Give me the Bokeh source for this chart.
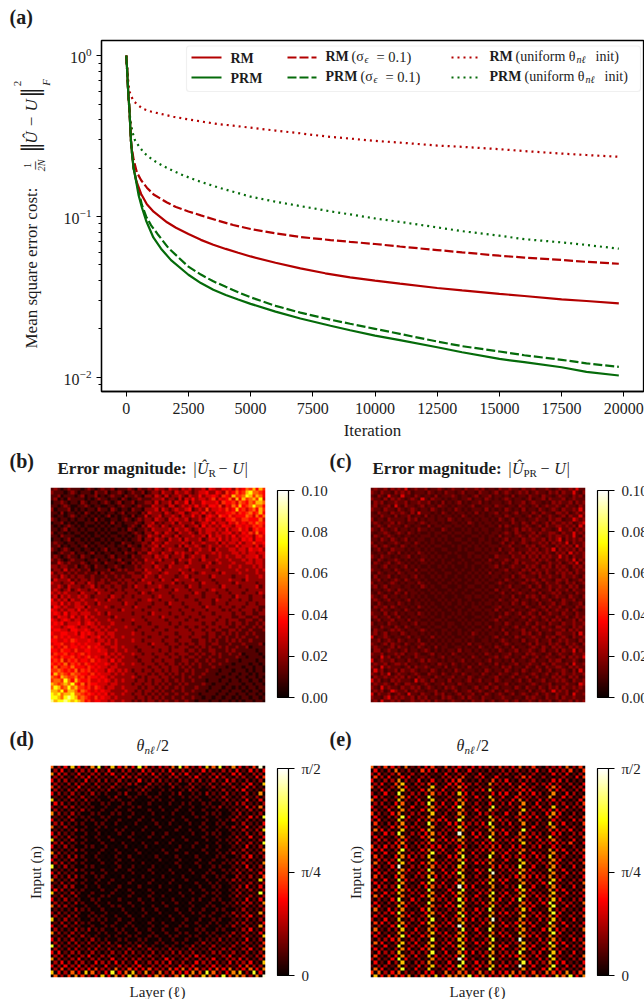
from math import pi
import numpy as np
from bokeh.plotting import figure
from bokeh.layouts import column, row
from bokeh.models import (Label, ColorBar, LinearColorMapper, FixedTicker, Arrow, BoxAnnotation,
                          SingleIntervalTicker, PrintfTickFormatter, LogTicker)
from bokeh.embed import file_html
from bokeh.resources import INLINE

# ---------- curves (a) ----------
rm_x = [0, 30, 60, 90, 130, 190, 240, 295, 400, 600, 830, 1100, 1640, 2000, 2500, 3000, 3500, 4000, 4500, 5000, 6000, 7000, 8000, 9000, 10000, 11000, 12500, 13500, 15000, 16000, 17500, 18500, 19800]
rm_y = [1.0, 0.85, 0.68, 0.56, 0.46, 0.295, 0.24, 0.2, 0.167, 0.138, 0.119, 0.107, 0.092, 0.085, 0.0778, 0.0715, 0.0667, 0.0628, 0.0595, 0.0564, 0.0515, 0.0475, 0.0443, 0.0418, 0.0399, 0.0382, 0.0359, 0.0347, 0.033, 0.032, 0.0305, 0.0298, 0.0288]
prm_x = [0, 30, 60, 90, 130, 190, 240, 295, 400, 500, 630, 800, 1090, 1400, 1800, 2500, 3000, 3500, 4000, 4500, 5000, 6000, 7000, 8210, 9000, 10000, 11000, 12500, 13500, 15000, 16000, 17500, 18500, 19800]
prm_y = [1.0, 0.85, 0.68, 0.56, 0.46, 0.295, 0.24, 0.2, 0.165, 0.135, 0.1137, 0.094, 0.074, 0.063, 0.0535, 0.0434, 0.0385, 0.035, 0.0325, 0.0304, 0.0286, 0.0256, 0.0232, 0.0209, 0.0196, 0.01816, 0.017, 0.01536, 0.0143, 0.013, 0.0124, 0.01153, 0.0108, 0.01025]
rmn_x = [0, 30, 60, 90, 130, 200, 300, 430, 600, 830, 1100, 1640, 2000, 2500, 3000, 3650, 4300, 5000, 6000, 7000, 8210, 9000, 10000, 11000, 12500, 13500, 15000, 16000, 17500, 18500, 19800]
rmn_y = [1.0, 0.85, 0.68, 0.56, 0.46, 0.28, 0.225, 0.1876, 0.168, 0.151, 0.137, 0.122, 0.1145, 0.1074, 0.1015, 0.0945, 0.0885, 0.0835, 0.0785, 0.0745, 0.0713, 0.0695, 0.0674, 0.065, 0.0618, 0.0598, 0.057, 0.0555, 0.0536, 0.0522, 0.0508]
prmn_x = [0, 30, 60, 90, 130, 190, 240, 295, 400, 630, 800, 1000, 1250, 1700, 2500, 3000, 3500, 4000, 4500, 5000, 6000, 7000, 8210, 9000, 10000, 11000, 12500, 13500, 15000, 16000, 17500, 18500, 19800]
prmn_y = [1.0, 0.85, 0.68, 0.56, 0.46, 0.295, 0.24, 0.2, 0.168, 0.118, 0.1, 0.088, 0.0781, 0.0635, 0.0487, 0.0435, 0.0395, 0.0365, 0.0338, 0.0314, 0.0278, 0.0252, 0.0228, 0.0215, 0.02, 0.0186, 0.01667, 0.0156, 0.01445, 0.0137, 0.01283, 0.0122, 0.0116]
rmu_x = [0, 30, 60, 90, 125, 200, 295, 450, 690, 1000, 1440, 1900, 2440, 3000, 3700, 4300, 5000, 6000, 7000, 7500, 8210, 9000, 10000, 11000, 12500, 13500, 15000, 16000, 17500, 18500, 19800]
rmu_y = [1.0, 0.88, 0.76, 0.67, 0.604, 0.56, 0.523, 0.495, 0.466, 0.449, 0.4325, 0.417, 0.403, 0.39, 0.375, 0.367, 0.3565, 0.342, 0.329, 0.3215, 0.3125, 0.305, 0.295, 0.288, 0.276, 0.271, 0.262, 0.255, 0.246, 0.241, 0.235]
prmu_x = [0, 30, 60, 100, 160, 250, 360, 500, 700, 950, 1230, 1700, 2170, 2800, 3700, 4300, 5000, 6000, 7000, 7500, 8210, 9000, 10000, 11000, 12500, 13500, 15000, 16000, 17500, 18500, 19800]
prmu_y = [1.0, 0.85, 0.7, 0.53, 0.403, 0.335, 0.295, 0.275, 0.25, 0.232, 0.2165, 0.198, 0.1834, 0.168, 0.1514, 0.1425, 0.1327, 0.1235, 0.116, 0.1125, 0.1075, 0.103, 0.0972, 0.0925, 0.0855, 0.081, 0.0759, 0.0722, 0.069, 0.0665, 0.063]

# ---------- heatmaps: one level character per cell ----------
grid_b = """
12101211 10121012 11201112 10211213 22132213 23122314 32243425 34657475
21110121 01110211 20112101 21120122 13221322 32123342 24325346 45786654
11201110 12011201 01211021 12102213 21312232 13224233 43254375 56875764
12010211 11010121 10110210 11211122 23122131 32423323 52434637 47567583
01121011 02101101 21012011 20112213 12231322 41322433 34254453 65465776
11012100 11210110 01101211 01211132 22133123 23242324 43524364 74568664
20111201 01011021 10210110 21102223 13212322 34123252 33435347 45356475
11020110 10210101 01101201 11021322 21321233 12332423 24334453 54564574
10110121 01101010 12010110 20113122 31223213 22423134 32543534 44653646
21011010 11010201 00110121 01212213 22132322 31223243 23324453 35544463
01120101 00111010 10201011 12102231 21223132 22312332 42332435 34354654
10101210 10100101 01011001 21021322 13212223 12231423 23243324 43435453
11012011 01011010 10110102 10112132 22231322 32123233 32324233 53424544
20110101 10100101 01001110 12102213 21322132 23213233 23233423 24353634
11021110 01010110 10110101 01211322 13221312 22322314 23323242 33432453
01101201 10101001 01011010 11202213 22132231 32223123 32423233 24342443
12110110 11010110 10100211 01122132 21322223 21322322 23132332 42335334
11201011 01201011 01101102 11021223 13222131 32232123 22323224 23332423
21012101 10110101 20110110 21122132 21232222 13223223 13222332 33243342
10121120 11012010 11011021 10211322 13221323 22132222 32322233 23233233
12101211 02110111 01201110 21122213 22312223 12322312 22323223 32333423
21210121 11011201 10112011 12113222 31222132 23221322 23222322 23232332
11321211 12101110 21101210 21212231 22223122 13222223 12322232 22332332
22122112 01210211 01121011 12122213 22132222 32222132 22222322 32223232
12213121 21120111 12012121 12213222 31222232 21322222 13222223 22322323
31221212 11211202 11211112 21122322 12322213 22212322 22132222 32222322
22132121 22112111 21121211 22213221 32222122 31222221 32222212 22322232
13222312 12212112 12112122 12132222 13221322 22312222 12222322 21322222
32212231 22132122 11221212 21222312 22223121 22221322 21222213 22222122
22321322 21223121 22122112 13221222 32122222 13221222 22132222 12222312
23212312 32212322 12212122 21222231 22221322 21222212 32221222 22122222
32323222 13222132 22122212 22132122 22212222 22132122 21222122 21222132
23132322 32321222 21322122 12222212 32221222 12222122 22122213 22212221
42323132 23222322 13221222 22122322 12222122 22212222 13222122 12212222
33242323 32322132 22222132 21222212 22132221 22221222 12221222 22122122
24323223 33132222 32122222 13222122 22212222 12222132 22122212 21222211
43232332 42322322 22221322 22212222 12222212 22122212 22212122 12221212
34324233 23332232 13222222 12222132 22212221 22221222 12222212 21221122
32433242 32423222 22132222 22212222 13222122 21222122 22122211 22112211
43234323 32332322 23222122 32221222 22122222 12212222 21221222 11221121
34342333 42343232 22322222 12222122 22212212 22222122 12221212 21211212
43323443 23323323 23222232 22122221 22222122 12212212 22122112 12112121
34433244 33432332 32232222 21222212 22122222 21222122 12211221 21121112
43344334 24343233 23322222 32212222 12222122 22122212 21121212 11212111
35343433 34323342 32322322 22222122 22122212 21222112 21212112 12111211
44334354 33343233 23232222 32212222 21222122 22112212 12112121 21121111
34453343 43433342 33232222 22222132 22122212 12212211 22111211 12111120
53435344 34353433 22332322 21222212 22212122 21121212 11212112 11201111
44354435 33443343 32232232 22122222 12212222 12212112 21112121 11111011
35445343 45343333 42323222 32212212 22122122 21121211 21211211 20111101
54354453 43453432 33232322 21222221 22212212 12212112 11211112 11011110
45463545 34435343 32423222 22122212 21222112 21121121 21112111 01111011
54546354 53543433 43232322 32212221 22122121 21212112 11211101 11101101
46355464 44354343 32332222 22222122 12212212 12112111 21110111 10110110
55654546 35453433 24323232 12212212 21212211 21211121 11011101 11010110
47565465 54435343 33232322 21222121 22121212 11211211 10111011 01101011
65476556 45354434 32322222 32121222 12212112 12112111 11101110 11011010
56658647 54453343 43232322 21221212 21211212 11211101 11011011 01101101
76567685 46354433 32332222 12212212 12121121 21111211 01110111 10110110
68756867 55453543 23322322 22121221 21211212 11121110 11101101 01011011
77685776 46543434 33222232 21212212 12112112 11211101 11011011 10101101
87867786 65454343 42322322 12212121 21211211 21110111 10110110 11011010
88768987 56543534 33232222 21221212 12112112 11211011 01101101 01101101
97889878 76453443 32322322 12121221 21211211 21101110 11011010 10110110
"""
grid_c = """
12112021 21301211 20112101 21102112 12011021 12110211 20112101 21121311
21021102 12120111 02101021 10120110 21101201 21012120 12110212 02113102
10210311 03110210 11020111 21011012 01120110 10201102 11021101 21102120
21102021 21012103 10211010 11011201 10210101 21011012 01120211 12012111
02120112 11201121 12010201 01201011 20101110 12011201 21101021 21120212
12011203 10211012 01102110 10110120 01110211 01102110 12012112 10211021
21102110 21012101 10210101 02101011 10201010 21010201 10210121 02112131
10211021 12102031 11010210 10110102 01011201 10120110 21021102 21201212
11021102 01120110 20101011 01021010 11010110 21011012 01201210 12021131
20110211 11021201 01101102 10101101 01101021 01201101 12110212 20113212
12101120 21011012 10110100 11010210 10110101 10210210 21012021 12120123
01210211 10210110 02011011 01101010 11011020 21010121 01202112 21212031
21021012 01101021 10100210 10010101 01100110 10120212 11021101 31120212
10112101 21021010 01011001 01101100 10101101 21021011 20211221 02113121
02101210 10110101 11010110 10010011 01011020 11012102 12101212 21213102
11021021 01201011 00101010 01100100 11010101 20110211 21120212 30212121
20110112 10110210 10100101 00011010 10110012 01201210 11212021 21302112
12012101 02101101 01011000 10100101 01011101 12011021 20121102 12120312
01201021 11010110 10100110 00101001 10101020 11201112 12012130 21212021
10110210 20101021 01010001 01000110 01011101 02112021 21212102 12031212
21021101 01120101 10101010 00100101 10100211 10211202 12021211 31202112
10210112 10101012 01010100 10010010 01021011 21021111 20212102 11213021
02101201 21010101 10100101 00101001 10110102 10120211 12101211 20121302
11012011 01201010 01001010 10001010 01011201 01211021 21021202 12102121
21101102 10110201 10100100 01010010 10101011 20110212 02112111 21201212
10210110 21011010 01010011 00100101 01020110 11012101 21202102 12120211
02011201 01101201 00101010 01001010 10101101 10201211 10211211 02112102
11201012 10210110 10010100 10100101 01011010 21011021 21021102 21201121
20110121 01011021 01001001 01001001 10100121 01101210 12102112 10212012
12012011 10110102 10100110 00100110 01011010 12011012 01201211 21021201
01101210 21011010 01010001 01001001 10100201 10210110 21011202 11202112
10210102 10201101 00101010 10010010 01011012 01012101 10201121 20110211
21012011 01101010 10010100 01001101 10100101 10201021 21021012 11021102
12101201 10120101 01001010 10100100 01011021 01120110 12011201 02112011
10210110 21010110 10100101 00101010 10110101 10210210 10201120 12101120
02112021 01101021 01010010 01010011 01001120 11011021 01120211 20110212
11021101 10210100 10101001 00100101 10110201 01201101 21012012 11202101
21102012 01011021 01010100 10101010 01011010 21012012 10201211 02110211
12011201 20101101 10100101 01010001 10101021 10110210 21021102 11201212
01201120 11020110 01011010 00101010 01011201 01101102 11012021 20112021
20110211 01101201 10100101 10010101 10100110 21011021 02110211 02112112
11021102 10210110 01011001 01001010 01020101 10120110 21021102 21102121
02110121 21011012 10100110 10100101 10101102 01011201 12011211 12021211
12012011 02101101 01010101 00101021 01011010 20110212 01201102 21112031
30112101 10120110 10201010 10010110 10101201 01021011 21102120 12102112
11201210 21011020 01010101 01101010 01101012 10110201 12011201 21211021
21012021 10210112 10101010 10010201 10110101 21011012 02110212 10212102
12110120 21101021 01020110 01101010 21010210 10201101 21021021 21021211
02201211 01201101 21010101 10201101 01101021 01120112 10120112 02113021
21120112 12011210 01201010 21010110 10210101 12011021 21101201 21102112
11031201 20110211 10101201 01101021 01011201 21010210 12012110 12021213
30121120 11021012 02110101 10120101 10120110 10201101 20110212 20112101
12112012 21201101 10102110 21011010 21010201 01120112 11021021 11203112
21031211 10120211 21011020 11010201 01101102 12011021 02102112 21021211
13120112 02112101 10210101 02101110 10210110 21010210 11201201 12102031
21021301 21101210 02110210 11021011 02101021 10120101 21012012 02112112
02112112 12021021 11021011 20110210 11011201 01201120 12011021 21021201
31201021 21110312 10201102 01101201 20110210 11012012 01120112 12102112
12112102 10221101 21011201 10210110 11021011 20101101 21011201 11211032
21031211 02112120 12101021 21011012 01201201 11021021 10210212 02112121
12120132 11201211 01120110 12011201 21012010 21101102 01120131 21201211
30211201 21031102 11021201 01201120 10210121 01201210 12012102 11203112
21102312 12112021 20110212 10120211 02110112 11011021 21102112 02112111
12031121 20112112 12021101 21101021 12012011 20120112 10211201 21120212
"""
# d and e: only every other cell is lit (checkerboard), so each row lists the lit cells
grid_d = """
5237 3268 2735 3842 3258 4237 5826 3249
2312 2231 3122 1321 2312 2132 1223 1323
6321 3122 2312 1223 2132 3121 2213 3122
2212 2321 1232 2112 1221 2312 3212 2134
3221 1312 2121 1312 2112 1221 2132 1212
2122 2121 1212 2021 1210 2112 1221 2317
4211 3112 1211 0121 1021 1211 2112 1321
2122 1211 2101 1210 1101 2101 1212 3112
3212 1121 1012 0110 1012 0112 1121 1216
1121 2110 1201 1011 0101 1101 1211 2121
7112 1211 0110 1001 1010 0110 1121 1313
3211 1101 1011 0010 0101 1011 0112 2112
2122 1110 1010 1100 1001 0101 1211 1325
2111 2101 0101 0010 1010 1010 1012 1212
6212 1011 0110 1001 0010 0101 1101 2112
1121 1101 1001 0100 1001 0110 1012 1328
3112 0110 1010 0101 0010 1001 0112 1211
2211 1011 0100 1001 0100 1010 1101 2113
5121 0101 1001 0010 1001 0011 0112 1312
1112 1010 0110 0100 0010 1010 1011 2127
3211 0101 0010 1001 0100 0101 1101 1212
2121 1010 1001 0010 1001 0010 1012 1313
7112 0101 0100 1000 0010 1001 0111 2112
2211 1001 0010 0101 0100 0100 1012 1218
3121 0110 1001 0010 0001 0101 0101 1312
1112 1001 0100 1000 1010 0010 1011 2115
6211 0101 0010 0100 0100 1001 0112 1212
2122 1010 0101 0001 0010 0100 1101 2312
3112 0101 0010 1000 1001 0010 1011 1211
2211 1001 0100 0100 0010 0101 0112 2116
8121 0110 0010 1001 0001 0010 1101 1312
1112 1001 0101 0010 0100 1001 0112 1212
3211 0110 1000 1001 0010 0101 1011 2113
2122 1011 0010 0100 1001 0010 1102 1214
6112 0101 0100 1001 0010 1001 0112 2117
1211 1010 1001 0010 0100 0101 1011 1212
2122 0101 0010 0100 1001 0010 1101 2313
3211 1001 0101 0010 0100 1010 1012 1212
7112 1010 0100 1001 0001 0101 1101 2118
1212 0101 1001 0010 1001 0010 1012 1212
3121 1011 0010 0101 0010 0110 1101 1313
2112 1010 1001 0100 1010 1001 0112 2216
5221 0101 0110 1001 0100 0101 1011 1212
1112 1101 0010 0101 0010 1010 1101 2112
2211 1010 1001 0010 1001 0110 1012 1216
2122 0111 0101 0100 0101 0011 0112 2312
7121 1011 1010 1001 0010 1010 1101 1212
1212 1101 0101 0010 1001 0101 1012 2113
3121 1010 1101 1001 0101 1011 0112 1216
2112 1211 0110 1010 1010 0110 1101 2312
6212 1101 1011 0101 0101 1011 1012 1213
1121 2110 1101 1011 0110 1101 1121 2117
3212 1121 1011 0110 1010 1011 1211 1312
2122 1211 2101 1101 1011 0121 1112 2114
8211 2112 1121 1211 0110 1211 2112 1212
2122 1221 2112 1121 1211 2112 1221 2316
3312 2121 1212 2112 1122 1211 2212 1212
2221 2312 2121 1221 2112 2321 1231 2124
6212 3122 1312 2212 1321 2122 3122 3212
2322 2132 2321 3122 2312 1322 2132 2317
3232 3221 3122 2312 2213 2312 3221 3422
2423 2342 2524 3342 2435 3423 4352 3536
7325 3752 3835 7262 5243 3648 5236 7283
5246 4237 3648 5236 4258 6275 3846 5269
"""
# panel (e): background cells, then the six bright vertical stripes row by row
grid_e = """
5243 2512 3514 2423 3254 2352 4125 3524
3125 3214 2312 3231 1312 2232 3122 2414
2312 3121 2213 1321 3112 2131 2113 2312
4231 2312 3122 2412 3231 1223 1231 2134
3122 2213 1412 3211 2132 3142 2114 3211
2314 2122 2213 3122 1122 3131 2232 1213
4212 1312 1313 2131 2132 1262 2136 3122
1321 2213 2231 2312 3112 2213 1133 2123
2131 3122 2122 2132 1123 3152 3212 1321
3212 1321 2112 1213 2213 1312 2121 3214
5121 2213 1312 2131 2122 1312 1322 2113
2213 3122 3231 3312 1212 3121 3112 2124
3122 2131 2122 3112 2132 1221 2311 1322
2131 1213 2312 2113 1321 2112 1223 2113
4213 2122 1312 1321 3211 3132 2132 3121
3122 1312 2131 2112 1222 1213 3123 1214
2311 3213 2133 1212 2133 2132 1212 2132
4122 2121 3213 3122 3112 3121 2112 3114
1213 2322 1312 2131 2221 1231 3122 1221
5321 2113 2122 3112 1123 2112 1123 2313
2132 3122 3122 1213 3132 3132 2212 3122
3212 2213 2131 2113 2212 1213 3112 1214
1321 1311 2123 3122 1232 2311 1322 2131
2123 3122 3212 2312 3121 2132 2213 2413
4232 2312 2132 1321 2213 1321 2314 2121
3312 2213 2231 3312 3222 3212 1123 3124
2131 3122 2122 1213 2132 3121 3212 1322
4213 1322 3113 3112 1313 2212 3212 2113
1322 2131 1312 2132 2231 3132 1312 3122
5132 1213 2322 1213 3112 1112 2213 1214
2213 3122 2122 2121 1133 2231 3122 2131
3122 1312 3131 3213 2212 3213 1122 3114
1321 2213 2113 3311 3132 1222 2212 1322
4213 2122 2322 2212 1112 2313 3212 2113
2131 3321 1312 1121 2223 3132 1312 3122
3212 1113 3231 3112 3213 1122 2312 1215
1322 3212 3122 2133 1131 2221 3122 2131
4213 2321 2113 1212 2112 1313 1123 3114
2132 2122 2212 3121 3222 3122 2212 1322
5321 1213 3231 3113 1313 2212 3212 2113
1213 3132 1122 2132 2123 1322 1322 3122
3122 2221 2113 1212 3221 3113 2312 2215
2311 2312 2323 3121 1232 2132 3122 1321
5132 2113 3212 2313 2112 1213 1122 2113
1223 3221 3122 1132 3133 3231 2312 3122
3212 1312 2131 3112 1312 2112 3213 1214
2131 3122 2212 2133 2222 1132 1322 2131
4322 2213 3223 1211 3213 2313 2112 3113
1213 3312 1322 3122 2132 3221 3122 1322
5122 3131 2311 2213 1112 1212 1313 2115
2311 2222 2123 1231 3133 2132 2212 3121
3132 3313 3122 3112 2213 3113 3112 1213
1223 1122 1212 2132 1221 1231 1322 2132
5312 3231 2223 1313 3312 2212 2213 3114
2131 3122 3312 3121 2133 3132 3122 1322
3212 2313 3131 2212 1113 1213 1312 2113
1322 3122 2113 1133 2232 2221 2312 3131
4123 2231 2322 3211 3213 3312 3112 1215
2213 3312 1222 2132 1122 1132 1322 2122
3132 3122 3213 1113 2312 2213 2213 3113
1221 2213 2322 3132 3233 3231 3122 1322
5312 3131 2123 2213 1212 1112 1323 2114
4523 7212 3815 2642 5283 3572 4258 3624
7354 2625 4736 5283 6425 7352 6347 5836
"""
stripe_e = """
243252 131213 412123 324141 634423 743633 675245 763734
857346 684726 776653 586362 768847 675673 576256 867736
758653 684867 567726 776684 869653 657857 476765 645373
433433 867456 786766 678837 876576 768676 957486 686867
768976 577656 886767 677768 859686 688576 767867 576776
868787 687658 758768 676877 867658 578776 786967 677658
869776 768867 676578 857766 587896 767678 877767 658876
786687 678758 869877 768686 678798 876867 535444 346352
"""
stripe_even = [8, 18, 26, 36, 44, 54]
stripe_odd = [9, 17, 27, 35, 45, 53]

LEVELS_ERR = [0.04, 0.11, 0.20, 0.30, 0.36, 0.43, 0.52, 0.64, 0.75, 0.88]
LEVELS_C = [0.09, 0.13, 0.20, 0.32]
LEVELS_TH = [0.03, 0.13, 0.24, 0.35, 0.43, 0.50, 0.56, 0.66, 0.78, 0.95]

RED = "#b30000"; GREEN = "#056b0a"; INK = "#1c1c1c"
SERIF = "Liberation Serif"


def hot():
    out = []
    for t in np.linspace(0, 1, 256):
        r = min(1, 0.0416 + t / 0.365 * 0.9584)
        g = float(np.clip((t - 0.365) / 0.381, 0, 1))
        b = float(np.clip((t - 0.746) / 0.254, 0, 1))
        out.append("#%02x%02x%02x" % (int(r * 255), int(g * 255), int(b * 255)))
    return out


HOT = hot()

# transparent full-page figure holding all texts (annotations outside a frame are clipped)
overlay = figure(width=644, height=999, x_range=(0, 644), y_range=(999, 0), toolbar_location=None,
                 output_backend="svg", min_border=0, margin=(-999, 0, 0, 0), frame_align=False,
                 background_fill_alpha=0, border_fill_alpha=0, outline_line_color=None)
overlay.axis.visible = False
overlay.grid.visible = False


def put(x, y, text, size, style="normal", angle=0, align="left", baseline="middle", font=SERIF, color=INK):
    overlay.add_layout(Label(x=x, y=y, text=text, text_font=font, text_font_size=f"{size}px",
                             text_font_style=style, text_color=color, angle=angle,
                             text_align=align, text_baseline=baseline))


# ---------- panel (a) ----------
a = figure(width=644, height=445, y_axis_type="log", x_range=(-994, 20792), y_range=(0.00815, 1.2427),
           toolbar_location=None, output_backend="svg", min_border_left=101, min_border_right=1,
           min_border_top=40, min_border_bottom=54, tags=[101, 391], frame_align=False)
a.grid.visible = False
a.outline_line_color = "black"
a.outline_line_width = 1.3
a.xaxis.ticker = SingleIntervalTicker(interval=2500, num_minor_ticks=0)
a.yaxis.ticker = LogTicker(num_minor_ticks=10)
for ax in (a.xaxis[0], a.yaxis[0]):
    ax.major_tick_in = 0
    ax.major_tick_out = 5
    ax.minor_tick_in = 0
    ax.minor_tick_out = 3
    ax.major_label_text_font = SERIF
    ax.major_label_text_font_size = "16px"
    ax.major_label_text_color = INK
    ax.axis_line_color = "black"
    ax.axis_line_width = 1.3
    ax.major_tick_line_color = "black"
    ax.minor_tick_line_color = "black"
a.xaxis.minor_tick_line_color = None
a.xaxis.major_label_standoff = 6
a.yaxis.major_label_standoff = 5
a.xaxis.axis_label = "Iteration"
a.xaxis.axis_label_text_font = SERIF
a.xaxis.axis_label_text_font_style = "normal"
a.xaxis.axis_label_text_font_size = "17px"
a.xaxis.axis_label_text_color = INK
a.xaxis.axis_label_standoff = 4

DASH = "9 3"; DOT = "2 4"
LW = 2.2
a.line(rmu_x, rmu_y, color=RED, line_width=LW, line_dash=DOT)
a.line(prmu_x, prmu_y, color=GREEN, line_width=LW, line_dash=DOT)
a.line(rmn_x, rmn_y, color=RED, line_width=LW, line_dash=DASH)
a.line(prmn_x, prmn_y, color=GREEN, line_width=LW, line_dash=DASH)
a.line(rm_x, rm_y, color=RED, line_width=LW)
a.line(prm_x, prm_y, color=GREEN, line_width=LW)

put(9, 16, "(a)", 20, "bold")
# y label built from pieces
put(31, 348, "Mean square error cost:", 17, angle=pi / 2)
put(26.5, 165, "1", 10, angle=pi / 2, align="center")
put(33, 165, "–", 16, angle=pi / 2, align="center")
put(40.5, 165, "2N", 10, angle=pi / 2, align="center", style="italic")
put(32, 147, "‖", 34, angle=pi / 2, align="center")
put(32, 92, "‖", 34, angle=pi / 2, align="center")
put(31, 121, "Û − U", 17, style="italic", angle=pi / 2, align="center")
put(17, 83, "2", 11, angle=pi / 2, align="center")
put(45, 82, "F", 11, style="italic", angle=pi / 2, align="center")


def seg(p, x0, x1, y, **kw):
    fl, fb = p.tags
    p.add_layout(Arrow(end=None, x_start=x0 - fl, x_end=x1 - fl, y_start=fb - y, y_end=fb - y,
                       start_units="screen", end_units="screen", **kw))


a.add_layout(BoxAnnotation(left=186 - 101, right=640 - 101, top=391 - 45.5, bottom=391 - 91,
                           left_units="screen", right_units="screen", top_units="screen", bottom_units="screen",
                           fill_color="white", fill_alpha=0.85, line_color="#cccccc", line_width=1.2, border_radius=3))
for yy, col in ((57, RED), (77, GREEN)):
    seg(a, 191, 221, yy, line_color=col, line_width=LW)
    seg(a, 287, 316, yy, line_color=col, line_width=LW, line_dash=DASH)
    seg(a, 451, 480, yy, line_color=col, line_width=LW, line_dash=DOT)
for yy, name in ((57, "RM"), (77, "PRM")):
    put(230, yy + 1, name, 14, "bold")
    put(325, yy - 1, name, 14, "bold")
    put(489, yy - 1, name, 14, "bold")
    dx = 26 if name == "RM" else 35
    put(325 + dx, yy - 1, "(σ", 14)
    put(325 + dx + 13, yy + 2, "ϵ", 10, style="italic")
    put(325 + dx + 25, yy - 1, "= 0.1)", 14.5)
    put(489 + dx, yy - 1, "(uniform θ", 14)
    put(489 + dx + 61, yy + 2, "nℓ", 10, style="italic")
    put(489 + dx + 80, yy - 1, "init)", 14)


# ---------- heat panels ----------
def rows_of(text):
    return [r.replace(" ", "") for r in text.strip().splitlines()]


def full_array(text, high, levels):
    return np.array([[levels[int(ch)] * high for ch in r] for r in rows_of(text)])[::-1]


def checker_array(text, high, levels):
    out = np.zeros((64, 64))
    for i, r in enumerate(rows_of(text)):
        for j, ch in enumerate(r):
            out[i, 2 * j + i % 2] = levels[int(ch)] * high
    return out


def with_stripes(base, text, high, levels):
    cells = text.split()
    for i, s in enumerate(cells):
        cols = stripe_odd if i % 2 else stripe_even
        for col, ch in zip(cols, s):
            base[i, col] = levels[int(ch)] * high
    return base


def heat(values, high, ticks, overrides, ox, oy, W, fx):
    top = (487 if oy < 700 else 765) - oy
    fh = 215 if oy < 700 else 212
    H = 277
    p = figure(width=W, height=H, x_range=(0, 1), y_range=(0, 1), toolbar_location=None, output_backend="svg",
               min_border_left=fx - ox, min_border_right=W - (fx - ox) - 215,
               min_border_top=top, min_border_bottom=H - top - fh)
    p.axis.visible = False
    p.grid.visible = False
    p.outline_line_color = None
    mapper = LinearColorMapper(palette=HOT, low=0, high=high)
    p.image(image=[values], x=0, y=0, dw=1, dh=1, color_mapper=mapper)
    cb = ColorBar(color_mapper=mapper, ticker=FixedTicker(ticks=ticks), width=11, height=207,
                  location=(227, 5 if oy < 700 else 2), padding=0, bar_line_color="black", bar_line_width=1.2,
                  major_tick_line_color="black", major_tick_out=6, major_tick_in=0, major_tick_line_width=1.2,
                  major_label_text_font=SERIF, major_label_text_font_size="15px", major_label_text_color=INK,
                  label_standoff=7, background_fill_alpha=0, border_line_color=None,
                  formatter=PrintfTickFormatter(format="%.2f"), major_label_overrides=overrides)
    p.add_layout(cb, "center")
    return p


ticks_err = [0.0, 0.02, 0.04, 0.06, 0.08, 0.1]
ticks_th = [0, pi / 4, pi / 2]
over_th = {0: "0", pi / 4: "π/4", pi / 2: "π/2"}

b = heat(full_array(grid_b, 0.1, LEVELS_ERR), 0.1, ticks_err, {}, 0, 445, 328, 50)
c = heat(full_array(grid_c, 0.1, LEVELS_C), 0.1, ticks_err, {}, 328, 445, 316, 370)
d = heat(checker_array(grid_d, pi / 2, LEVELS_TH)[::-1], pi / 2, ticks_th, over_th, 0, 722, 328, 50)
e_vals = with_stripes(checker_array(grid_e, pi / 2, LEVELS_TH), stripe_e, pi / 2, LEVELS_TH)
e = heat(e_vals[::-1], pi / 2, ticks_th, over_th, 328, 722, 316, 370)

for x, sub, lx, t in ((9, "R", 57, "b"), (329, "PR", 372, "c")):
    put(x, 460, f"({t})", 20, "bold")
    put(lx, 468, "Error magnitude:", 17, "bold")
    put(lx + 135, 468, "|Û", 16, style="italic")
    put(lx + 151, 472, sub, 11)
    w = 9 if sub == "R" else 16
    put(lx + 151 + w, 468, "− U|", 16, style="italic")
for x, lx, t in ((9, 157, "d"), (329, 477, "e")):
    put(x, 738, f"({t})", 20, "bold")
    put(lx - 21, 745, "θ", 16, style="italic")
    put(lx - 13, 749, "nℓ", 11, style="italic")
    put(lx - 1, 745, "/2", 16)
    put(lx, 991, "Layer (ℓ)", 15, align="center")
    put(lx - 122, 872, "Input (n)", 15, angle=pi / 2, align="center")

page = column(a, row(b, c, spacing=0), row(d, e, spacing=0), overlay, spacing=0)
open("out.html", "w").write(file_html(page, INLINE))
